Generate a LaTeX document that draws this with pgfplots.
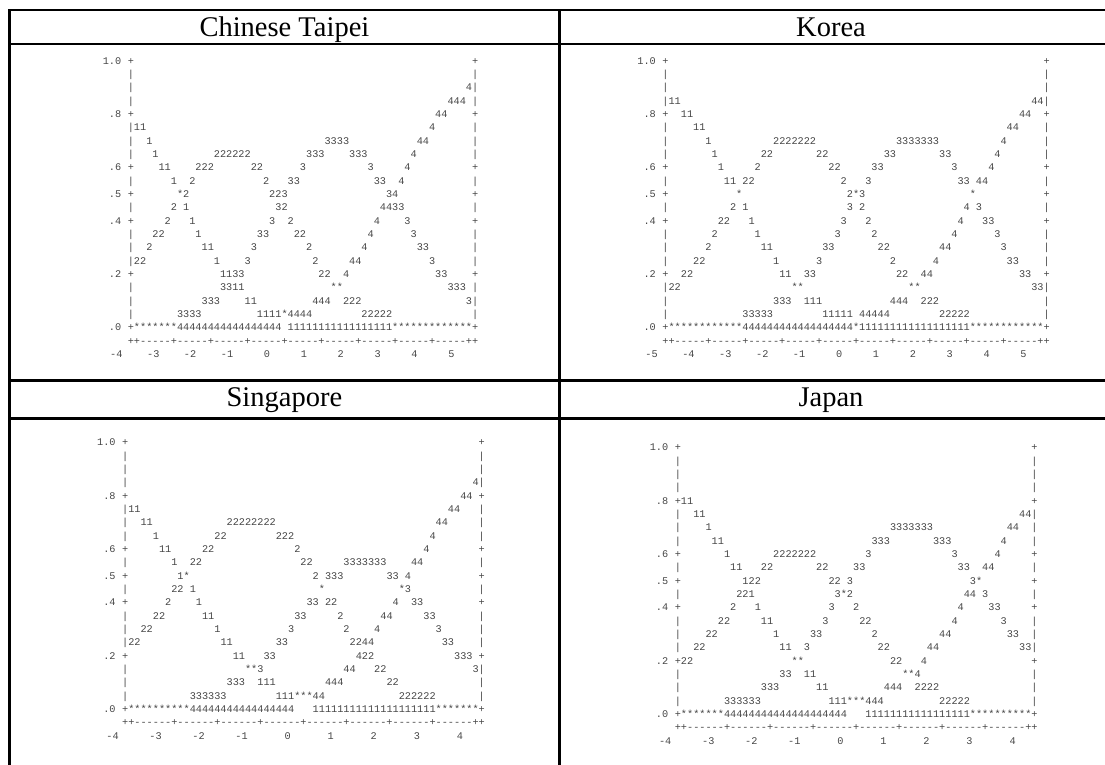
\documentclass[border=0pt]{standalone}
\usepackage{fontspec}
\setmainfont{Liberation Serif}
\setmonofont{Liberation Mono}
\usepackage{pgfplots}
\usepackage{pgfplotstable}
\pgfplotsset{compat=1.18}
\definecolor{asc}{RGB}{70,70,70}
\newcommand\asc{\fontsize{10.245}{12}\selectfont\ttfamily}
\newcommand\hdr{\fontsize{28.5}{30}\selectfont}

% axis frame characters (row, text)
\pgfplotstableread{
r t
0 +
1 |
2 |
3 |
4 +
5 |
6 |
7 |
8 +
9 |
10 +
11 |
12 +
13 |
14 |
15 |
16 +
17 |
18 |
19 |
20 +
}\frameTab

% Chinese Taipei: row, column, characters
\pgfplotstableread{
r c t
2 55 4
3 52 444
4 50 44
5 1 11
5 49 4
6 3 1
6 32 3333
6 47 44
7 4 1
7 14 222222
7 29 333
7 36 333
7 46 4
8 5 11
8 11 222
8 20 22
8 28 3
8 39 3
8 45 4
9 7 1
9 10 2
9 22 2
9 26 33
9 40 33
9 44 4
10 8 *2
10 23 223
10 42 34
11 7 2
11 9 1
11 24 32
11 41 4433
12 6 2
12 10 1
12 23 3
12 26 2
12 40 4
12 45 3
13 4 22
13 11 1
13 21 33
13 27 22
13 39 4
13 46 3
14 3 2
14 12 11
14 20 3
14 29 2
14 38 4
14 47 33
15 1 22
15 14 1
15 19 3
15 30 2
15 36 44
15 49 3
16 15 1133
16 31 22
16 35 4
16 50 33
17 15 3311
17 33 **
17 52 333
18 12 333
18 19 11
18 30 444
18 35 222
18 55 3
19 8 3333
19 21 1111*4444
19 38 22222
20 1 *******
20 8 4444444444
20 18 4444444
20 26 1111111111
20 36 1111111
20 43 **********
20 53 ***
21 0 ++
21 2 -----+
21 8 -----+
21 14 -----+
21 20 -----+
21 26 -----+
21 32 -----+
21 38 -----+
21 44 -----+
21 50 -----+
21 56 +
}\ctData

% Korea
\pgfplotstableread{
r c t
3 1 11
3 60 44
4 3 11
4 58 44
5 5 11
5 56 44
6 7 1
6 18 2222222
6 38 3333333
6 55 4
7 8 1
7 16 22
7 25 22
7 36 33
7 45 33
7 54 4
8 9 1
8 15 2
8 27 22
8 34 33
8 47 3
8 53 4
9 10 11
9 13 22
9 29 2
9 33 3
9 48 33
9 51 44
10 12 *
10 30 2*3
10 50 *
11 11 2
11 13 1
11 30 3
11 32 2
11 49 4
11 51 3
12 9 22
12 14 1
12 29 3
12 33 2
12 48 4
12 52 33
13 8 2
13 15 1
13 28 3
13 34 2
13 47 4
13 54 3
14 7 2
14 16 11
14 26 33
14 35 22
14 45 44
14 55 3
15 5 22
15 18 1
15 25 3
15 37 2
15 44 4
15 56 33
16 3 22
16 19 11
16 23 33
16 38 22
16 42 44
16 58 33
17 1 22
17 21 **
17 40 **
17 60 33
18 18 333
18 23 111
18 37 444
18 42 222
19 13 33333
19 26 11111
19 32 44444
19 45 22222
20 1 **********
20 11 **
20 13 4444444444
20 23 44444444
20 31 *
20 32 1111111111
20 42 11111111
20 50 **********
20 60 **
21 0 ++
21 2 -----+
21 8 -----+
21 14 -----+
21 20 -----+
21 26 -----+
21 32 -----+
21 38 -----+
21 44 -----+
21 50 -----+
21 56 -----+
21 62 +
}\krData

% Singapore
\pgfplotstableread{
r c t
3 57 4
4 55 44
5 1 11
5 53 44
6 3 11
6 17 22222222
6 51 44
7 5 1
7 15 22
7 25 222
7 50 4
8 6 11
8 13 22
8 28 2
8 49 4
9 8 1
9 11 22
9 29 22
9 36 3333333
9 47 44
10 9 1*
10 31 2
10 33 333
10 43 33
10 46 4
11 8 22
11 11 1
11 32 *
11 45 *3
12 7 2
12 12 1
12 30 33
12 33 22
12 44 4
12 47 33
13 5 22
13 13 11
13 28 33
13 35 2
13 42 44
13 49 33
14 3 22
14 15 1
14 27 3
14 36 2
14 41 4
14 51 3
15 1 22
15 16 11
15 25 33
15 37 2244
15 52 33
16 18 11
16 23 33
16 38 422
16 54 333
17 20 **3
17 36 44
17 41 22
17 57 3
18 17 333
18 22 111
18 33 444
18 43 22
19 11 333333
19 25 111***44
19 45 222222
20 1 **********
20 11 4444444444
20 21 4444444
20 31 1111111111
20 41 1111111111
20 51 *******
21 0 ++
21 2 ------+
21 9 ------+
21 16 ------+
21 23 ------+
21 30 ------+
21 37 ------+
21 44 ------+
21 51 ------+
21 58 +
}\sgData

% Japan
\pgfplotstableread{
r c t
4 1 11
5 3 11
5 56 44
6 5 1
6 35 3333333
6 54 44
7 6 11
7 32 333
7 42 333
7 53 4
8 8 1
8 16 2222222
8 31 3
8 45 3
8 52 4
9 9 11
9 14 22
9 23 22
9 29 33
9 46 33
9 50 44
10 11 122
10 25 22
10 28 3
10 48 3*
11 10 221
11 26 3*2
11 47 44
11 50 3
12 9 2
12 13 1
12 25 3
12 29 2
12 46 4
12 51 33
13 7 22
13 14 11
13 24 3
13 30 22
13 45 4
13 53 3
14 5 22
14 16 1
14 22 33
14 32 2
14 43 44
14 54 33
15 3 22
15 17 11
15 21 3
15 33 22
15 41 44
15 56 33
16 1 22
16 19 **
16 35 22
16 40 4
17 17 33
17 21 11
17 37 **4
18 14 333
18 23 11
18 34 444
18 39 2222
19 8 333333
19 25 111***444
19 43 22222
20 1 *******
20 8 4444444444
20 18 4444444444
20 31 1111111111
20 41 1111111
20 48 **********
21 0 ++
21 2 ------+
21 9 ------+
21 16 ------+
21 23 ------+
21 30 ------+
21 37 ------+
21 44 ------+
21 51 ------+
21 58 +
}\jpData

\pgfplotsset{
  ascii/.style={
    anchor=south west,
    x=6.148pt, y=266.667pt,
    xmin=-3, ymin=-0.1, ymax=1,
    axis line style={draw=none},
    tick style={draw=none}, major tick length=0pt,
    clip=false,
    ytick={0,0.2,0.4,0.5,0.6,0.8,1},
    yticklabels={.0,.2,.4,.5,.6,.8,1.0},
    ticklabel style={font=\asc, text=asc, inner sep=0pt, text height=6.75pt, text depth=0pt},
    xticklabel style={anchor=east, xshift=3.074pt},
    yticklabel style={anchor=east, xshift=9.222pt},
  },
  txt/.style={
    only marks, mark=*, mark size=0pt, mark options={draw=none, fill=none},
    nodes near coords, point meta=explicit symbolic,
    every node near coord/.style={anchor=west, inner sep=0pt, xshift=-3.074pt,
      font=\asc, text=asc, text height=6.75pt, text depth=0pt},
  },
}

\begin{document}
\begin{tikzpicture}
\path[use as bounding box] (0pt,0pt) rectangle (1105pt,-765pt);

% table rules
\begin{scope}[line width=2.4pt, black]
\draw (9.5pt,-770pt) -- (9.5pt,-10.3pt) -- (1112pt,-10.3pt);
\draw (9.5pt,-44pt) -- (1112pt,-44pt);
\draw (9.5pt,-380.5pt) -- (1112pt,-380.5pt);
\draw (9.5pt,-418.5pt) -- (1112pt,-418.5pt);
\draw (559.3pt,-10.3pt) -- (559.3pt,-770pt);
\end{scope}

\node[font=\hdr, anchor=base] at (284.4pt,-36.5pt) {Chinese Taipei};
\node[font=\hdr, anchor=base] at (831pt,-36.5pt) {Korea};
\node[font=\hdr, anchor=base] at (284.4pt,-406.5pt) {Singapore};
\node[font=\hdr, anchor=base] at (831pt,-406.5pt) {Japan};

% Chinese Taipei
\begin{axis}[ascii, at={(112.26pt,-354.0pt)}, xmax=56.5,
  xtick={-1.8,4.2,10.2,16.2,22.2,28.2,34.2,40.2,46.2,52.2},
  xticklabels={-4,-3,-2,-1,0,1,2,3,4,5}]
\addplot[txt] table[x expr=0, y expr={1-0.05*\thisrow{r}}, meta=t] {\frameTab};
\addplot[txt] table[x expr=56, y expr={1-0.05*\thisrow{r}}, meta=t] {\frameTab};
\addplot[txt] table[x=c, y expr={1-0.05*\thisrow{r}}, meta=t] {\ctData};
\end{axis}

% Korea
\begin{axis}[ascii, at={(646.86pt,-354.0pt)}, xmax=62.5,
  xtick={-1.7,4.3,10.3,16.3,22.3,28.3,34.3,40.3,46.3,52.3,58.3},
  xticklabels={-5,-4,-3,-2,-1,0,1,2,3,4,5}]
\addplot[txt] table[x expr=0, y expr={1-0.05*\thisrow{r}}, meta=t] {\frameTab};
\addplot[txt] table[x expr=62, y expr={1-0.05*\thisrow{r}}, meta=t] {\frameTab};
\addplot[txt] table[x=c, y expr={1-0.05*\thisrow{r}}, meta=t] {\krData};
\end{axis}

% Singapore
\begin{axis}[ascii, at={(106.56pt,-735.7pt)}, xmax=58.5,
  xtick={-1.5,5.5,12.5,19.5,26.5,33.5,40.5,47.5,54.5},
  xticklabels={-4,-3,-2,-1,0,1,2,3,4}]
\addplot[txt] table[x expr=0, y expr={1-0.05*\thisrow{r}}, meta=t] {\frameTab};
\addplot[txt] table[x expr=58, y expr={1-0.05*\thisrow{r}}, meta=t] {\frameTab};
\addplot[txt] table[x=c, y expr={1-0.05*\thisrow{r}}, meta=t] {\sgData};
\end{axis}

% Japan
\begin{axis}[ascii, at={(659.26pt,-740.7pt)}, xmax=58.5,
  xtick={-1.5,5.5,12.5,19.5,26.5,33.5,40.5,47.5,54.5},
  xticklabels={-4,-3,-2,-1,0,1,2,3,4}]
\addplot[txt] table[x expr=0, y expr={1-0.05*\thisrow{r}}, meta=t] {\frameTab};
\addplot[txt] table[x expr=58, y expr={1-0.05*\thisrow{r}}, meta=t] {\frameTab};
\addplot[txt] table[x=c, y expr={1-0.05*\thisrow{r}}, meta=t] {\jpData};
\end{axis}
\end{tikzpicture}
\end{document}
